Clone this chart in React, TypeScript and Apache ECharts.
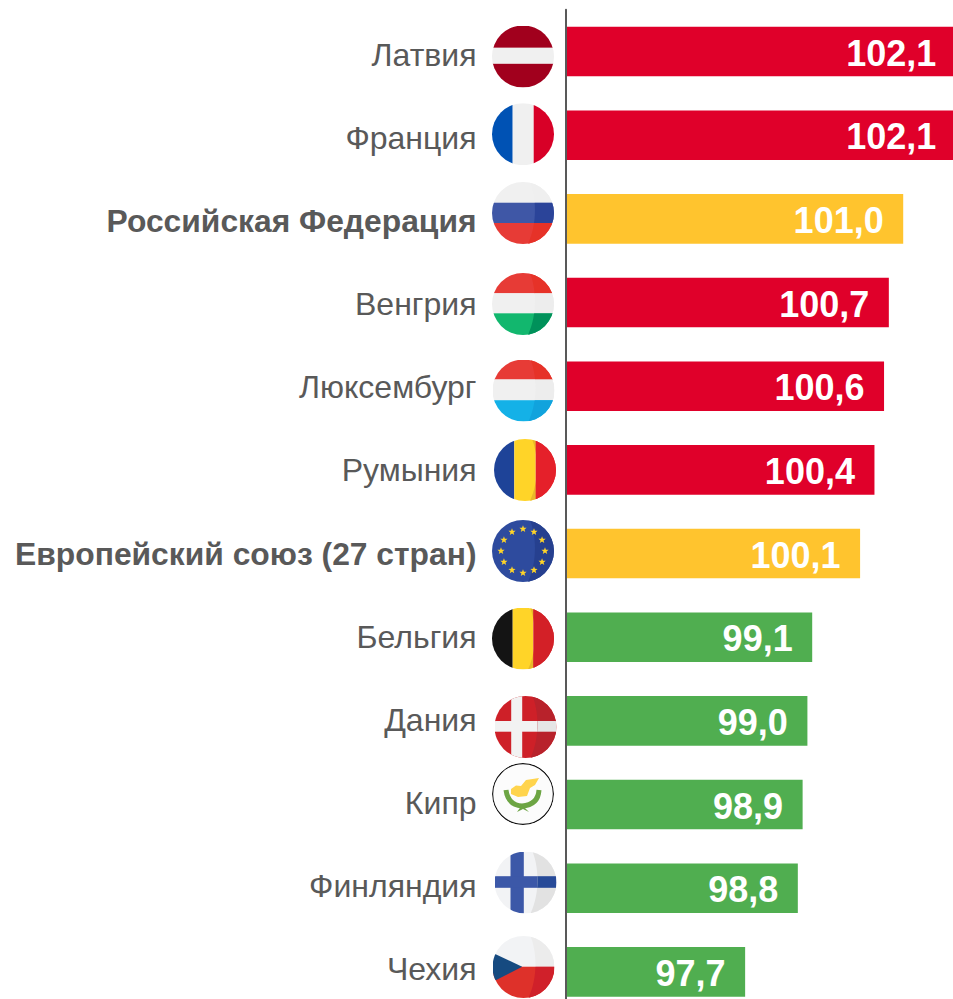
import React, { useEffect, useRef } from "react";
import * as echarts from "echarts";

const countries = ["Латвия", "Франция", "Российская Федерация", "Венгрия", "Люксембург", "Румыния", "Европейский союз (27 стран)", "Бельгия", "Дания", "Кипр", "Финляндия", "Чехия"];
const values = [102.1, 102.1, 101.0, 100.7, 100.6, 100.4, 100.1, 99.1, 99.0, 98.9, 98.8, 97.7];
const groups = ["high", "high", "ref", "high", "high", "high", "ref", "low", "low", "low", "low", "low"];
const groupColors: Record<string, string> = { high: "#E0002A", ref: "#FFC42E", low: "#50AE50" };
const boldCountries = ["Российская Федерация", "Европейский союз (27 стран)"];

const flagCenters = [[523, 56.5], [523, 134.2], [523, 213], [523, 304], [523.5, 390.5], [525, 470], [523, 551], [523, 638.5], [525.5, 727], [523, 794], [525.5, 882.5], [523.5, 967]];

const SHADE = "M38,0 C44,15 46,40 36,62 L62,62 L62,0 Z";
const rect = (x: number, y: number, w: number, h: number, fill: string) => `<rect x="${x}" y="${y}" width="${w}" height="${h}" fill="${fill}"/>`;
const hBands = (a: number, b: number, c1: string, c2: string, c3: string) => rect(0, 0, 62, a, c1) + rect(0, a, 62, b - a, c2) + rect(0, b, 62, 62 - b, c3);
const vBands = (a: number, b: number, c1: string, c2: string, c3: string) => rect(0, 0, a, 62, c1) + rect(a, 0, b - a, 62, c2) + rect(b, 0, 62 - b, 62, c3);

const starPoints = (cx: number, cy: number, r: number) => {
  const pts: string[] = [];
  for (let i = 0; i < 10; i++) {
    const a = -Math.PI / 2 + (i * Math.PI) / 5;
    const rr = i % 2 ? r * 0.42 : r;
    pts.push(`${(cx + rr * Math.cos(a)).toFixed(2)},${(cy + rr * Math.sin(a)).toFixed(2)}`);
  }
  return pts.join(" ");
};
const euStars = () => {
  let s = "";
  for (let i = 0; i < 12; i++) {
    const a = (i * Math.PI) / 6;
    s += `<polygon points="${starPoints(31 + 22 * Math.sin(a), 31 - 22 * Math.cos(a), 3.8)}" fill="#FFD428"/>`;
  }
  return s;
};

const flagSvg = (base: string, shaded = "", over = "") =>
  "data:image/svg+xml;charset=utf-8," +
  encodeURIComponent(
    `<svg xmlns="http://www.w3.org/2000/svg" width="62" height="62" viewBox="0 0 62 62"><defs><clipPath id="c"><circle cx="31" cy="31" r="31"/></clipPath><clipPath id="s"><path d="${SHADE}"/></clipPath></defs><g clip-path="url(#c)">${base}${shaded ? `<g clip-path="url(#s)">${shaded}</g>` : ""}${over}</g></svg>`
  );

const W = "#F0F0F0";
const flags = [
  flagSvg(hBands(22.3, 38.3, "#A1001D", W, "#A1001D")),
  flagSvg(vBands(20.7, 41.7, "#0052B4", W, "#D80027")),
  flagSvg(hBands(20.7, 41, W, "#3F57A6", "#E73B36"), hBands(20.7, 41, "#EFEFEF", "#2B4499", "#E63228")),
  flagSvg(hBands(20.3, 40.3, "#E73B36", W, "#12B76E"), hBands(20.3, 40.3, "#E63228", "#EDEDED", "#00915A")),
  flagSvg(hBands(20, 40.7, "#E73B36", W, "#14B1E7"), hBands(20, 40.7, "#E63228", "#EDEDED", "#11A3DD")),
  flagSvg(vBands(20.3, 41.7, "#1E4398", "#FFD428", "#E5202A"), vBands(20.3, 41.7, "#1E4398", "#E8B829", "#E5202A")),
  flagSvg(rect(0, 0, 62, 62, "#2E4B9E"), rect(0, 0, 62, 62, "#26408F"), euStars()),
  flagSvg(vBands(20.7, 41.3, "#141414", "#FFD428", "#D32027"), vBands(20.7, 41.3, "#141414", "#E8B829", "#D32027")),
  flagSvg(
    rect(0, 0, 62, 62, "#CE2028") + rect(16.7, 0, 11, 62, "#F2F2F2") + rect(0, 25, 62, 10.7, "#F2F2F2"),
    rect(0, 0, 62, 62, "#B8222B") + rect(0, 25, 62, 10.7, "#E5E5E5")
  ),
  flagSvg(
    `<circle cx="31" cy="31" r="30.4" fill="#FCFCFC" stroke="#111" stroke-width="1.2"/>`,
    "",
    `<polygon points="19,26 24,22.5 29,23 34,17 47,15 43,22 38,25 35,33 26,34 19,31" fill="#FFD44D"/>` +
      `<path d="M14,27 Q16,42 30,43 Q46,42 47,27" fill="none" stroke="#6DA544" stroke-width="5"/>` +
      `<polygon points="25,49 30,42 37,49 31,46" fill="#6DA544"/>`
  ),
  flagSvg(
    rect(0, 0, 62, 62, "#F2F3F5") + rect(16, 0, 13.3, 62, "#3C58A8") + rect(0, 24.7, 62, 11.6, "#3C58A8"),
    rect(0, 0, 62, 62, "#E2E2E2") + rect(0, 24.7, 62, 11.6, "#274A98")
  ),
  flagSvg(
    rect(0, 0, 62, 30.7, "#F2F3F5") + rect(0, 30.7, 62, 31.3, "#DE312A"),
    rect(0, 0, 62, 30.7, "#ECECEC") + rect(0, 30.7, 62, 31.3, "#D0202A"),
    `<polygon points="0,16.7 29.7,30.7 3.7,44 0,44" fill="#164A80"/>`
  ),
];

const FONT = '"Liberation Sans", Arial, sans-serif';

export default function App() {
  const ref = useRef<HTMLDivElement>(null);
  useEffect(() => {
    const chart = echarts.init(ref.current!, null, { renderer: "svg" });
    chart.setOption({
      animation: false,
      backgroundColor: "#FFFFFF",
      textStyle: { fontFamily: FONT },
      grid: [
        { left: 566, top: 9.7, width: 433, height: 1004, containLabel: false },
        { left: 566, top: 13.5, width: 433, height: 997, containLabel: false },
      ],
      xAxis: [
        { type: "value", gridIndex: 0, min: 93.96, max: 103, show: false },
        { type: "value", gridIndex: 1, min: 93.96, max: 103, show: false },
      ],
      yAxis: [
        {
          type: "category",
          gridIndex: 0,
          inverse: true,
          data: countries,
          z: 5,
          axisLine: { show: true, lineStyle: { color: "#595959", width: 2 } },
          axisTick: { show: false },
          axisLabel: { show: false },
          splitLine: { show: false },
        },
        {
          type: "category",
          gridIndex: 1,
          inverse: true,
          data: countries,
          axisLine: { show: false },
          axisTick: { show: false },
          splitLine: { show: false },
          axisLabel: {
            margin: 89.5,
            fontFamily: FONT,
            fontSize: 32,
            color: "#595959",
            interval: 0,
            formatter: (name: string) => (boldCountries.includes(name) ? `{b|${name}}` : name),
            rich: { b: { fontFamily: FONT, fontSize: 31.8, fontWeight: "bold", color: "#595959" } },
          },
        },
      ],
      series: [
        {
          type: "bar",
          xAxisIndex: 0,
          yAxisIndex: 0,
          barWidth: 49.6,
          data: values.map((v, i) => ({ value: v, itemStyle: { color: groupColors[groups[i]] } })),
          label: {
            show: true,
            position: "insideRight",
            distance: 19.5,
            offset: [0, 1.5],
            fontFamily: FONT,
            fontSize: 36,
            fontWeight: "bold",
            color: "#FFFFFF",
            formatter: (p: any) => p.value.toFixed(1).replace(".", ","),
          },
        },
      ],
      graphic: flags.map((image, i) => ({
        type: "image",
        x: flagCenters[i][0] - 31,
        y: flagCenters[i][1] - 31,
        style: { image, width: 62, height: 62 },
      })),
    });
    return () => chart.dispose();
  }, []);
  return (
    <div style={{ position: "absolute", left: 0, top: 0, width: 953, height: 999, overflow: "hidden", background: "#FFFFFF" }}>
      <div ref={ref} style={{ width: 1100, height: 1100 }} />
    </div>
  );
}
